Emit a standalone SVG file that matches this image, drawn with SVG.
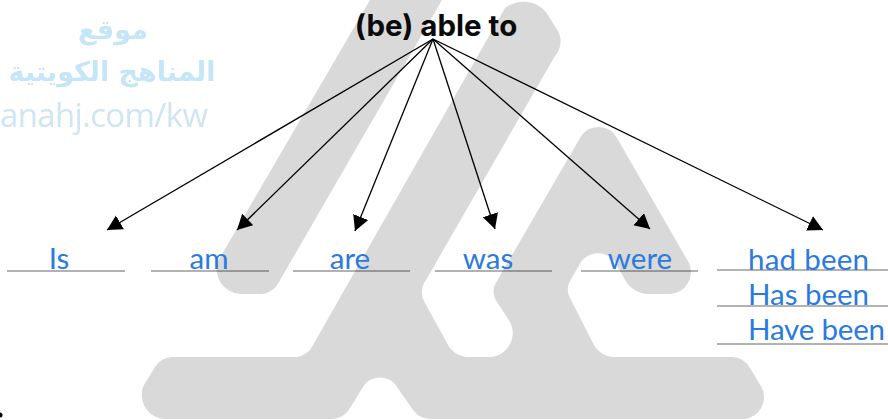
<svg xmlns="http://www.w3.org/2000/svg" width="888" height="420" viewBox="0 0 888 420">
<style>
.bg{fill:#d9d9d9}
.wm{fill:#c5e6f6;font-family:"DejaVu Sans",sans-serif;filter:url(#b)}
.t{fill:#2a7ae0;font-family:Lato,"Liberation Sans",sans-serif;font-size:29.5px;font-weight:400}
.u{stroke:#000;stroke-opacity:.3;stroke-width:2;fill:none}
.c{stroke:#000;stroke-width:1.3;fill:none;marker-end:url(#a)}
</style>
<defs>
<marker id="a" markerUnits="userSpaceOnUse" markerWidth="16" markerHeight="17" refX="15" refY="8" orient="auto"><path d="M0 0L15 8L0 16Z" fill="#000"/></marker>
<filter id="b" x="-5%" y="-20%" width="110%" height="140%"><feGaussianBlur stdDeviation="0.6"/></filter>
</defs>
<g id="background">
<path class="bg" d="M370 0H442L279 282A22 22 0 0 1 262 294H240A25 25 0 0 1 218 261Z"/>
<path class="bg" d="M505 8A30 30 0 0 1 546 12L556 28A22 22 0 0 1 555 56L426 280A20 20 0 0 0 425 303L447 343A24 24 0 0 0 468 357H490A24 24 0 0 0 510 322L497 302A18 18 0 0 1 497 281L580 138A21 21 0 0 1 617 138L689 263A22 22 0 0 1 670 294H650A28 28 0 0 1 625 280L617 265A21 21 0 0 0 581 262L570 281A18 18 0 0 0 570 298L593 343A24 24 0 0 0 613 357H733A22 22 0 0 1 750 368L762 388A22 22 0 0 1 745 419H430A22 22 0 0 1 413 410L397 387A20 20 0 0 0 363 387L350 408A22 22 0 0 1 333 419H165A24 24 0 0 1 144 385L155 367A22 22 0 0 1 172 357H297A22 22 0 0 0 313 345Z"/>
</g>
<g id="watermark">
<text class="wm" x="113" y="39" text-anchor="middle" font-size="27" font-weight="700">موقع</text>
<text class="wm" x="112" y="81" text-anchor="middle" font-size="27" font-weight="700">المناهج الكويتية</text>
<text class="wm" x="0" y="127" font-size="33" style="font-family:'Open Sans',sans-serif;fill:#cfe6f2" textLength="208">anahj.com/kw</text>
</g>
<g id="connectors">
<path class="c" d="M433 39L107 230"/>
<path class="c" d="M433 39L237 230"/>
<path class="c" d="M433 39L355 231"/>
<path class="c" d="M433 39L495 229"/>
<path class="c" d="M433 39L650 229"/>
<path class="c" d="M433 39L823 230"/>
</g>
<g id="title"><text x="436" y="36" text-anchor="middle" font-family="Inter,'Liberation Sans',sans-serif" font-size="29.5" font-weight="700" fill="#0a0a0a">(be) able to</text></g>
<g id="n-is"><path class="u" d="M7 271H125"/><text class="t" x="59" y="269" text-anchor="middle">Is</text></g>
<g id="n-am"><path class="u" d="M151 271H269"/><text class="t" x="209" y="269" text-anchor="middle">am</text></g>
<g id="n-are"><path class="u" d="M293 271H410"/><text class="t" x="350" y="269" text-anchor="middle">are</text></g>
<g id="n-was"><path class="u" d="M435 271H552"/><text class="t" x="488" y="269" text-anchor="middle">was</text></g>
<g id="n-were"><path class="u" d="M581 271H698"/><text class="t" x="640" y="269" text-anchor="middle">were</text></g>
<g id="n-had"><path class="u" d="M717 270H888"/><text class="t" x="748" y="270" textLength="121">had been</text></g>
<g id="n-has"><path class="u" d="M717 306H888"/><text class="t" x="748" y="305" textLength="121">Has been</text></g>
<g id="n-have"><path class="u" d="M717 344H888"/><text class="t" x="748" y="340" textLength="137">Have been</text></g>
<circle cx="0" cy="415" r="2.5" fill="#000"/>
</svg>
